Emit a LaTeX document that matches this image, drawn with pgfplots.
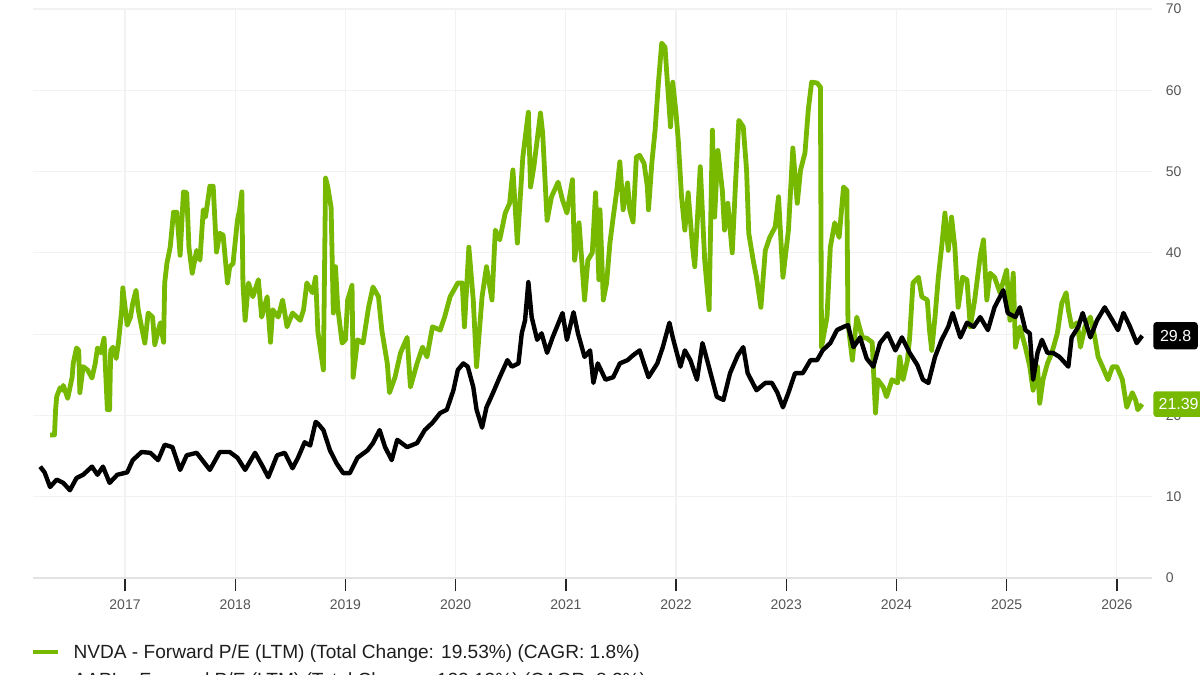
\documentclass[border=0pt]{standalone}
\usepackage{fontspec}
\setmainfont{Liberation Sans}
\usepackage{pgfplots}
\pgfplotsset{compat=1.18}
\definecolor{nv}{HTML}{76B900}
\definecolor{tk}{HTML}{555555}
\definecolor{gridc}{HTML}{F2F2F2}
\definecolor{axc}{HTML}{E2E2E2}
\definecolor{legc}{HTML}{1E1E1E}
\begin{document}
\begin{tikzpicture}
\useasboundingbox (0,0) rectangle (600pt,337.5pt);
\clip (0,0) rectangle (600pt,337.5pt);
\begin{axis}[
  at={(16.5pt,48.5pt)}, anchor=south west,
  scale only axis, width=559.5pt, height=284.5pt,
  xmin=2016.165, xmax=2026.319, ymin=0, ymax=70,
  clip=false,
  axis line style={draw=none},
  xtick={2017,2018,2019,2020,2021,2022,2023,2024,2025,2026},
  xticklabels={2017,2018,2019,2020,2021,2022,2023,2024,2025,2026},
  ytick={10,20,30,40,50,60,70},
  extra y ticks={0},
  extra y tick style={major grid style={draw=axc, line width=1.3pt}},
  xtick pos=left,
  yticklabel pos=right,
  tick align=outside,
  major tick length=6.5pt,
  xtick style={draw=black!85, line width=0.7pt},
  ytick style={draw=none},
  grid=major,
  major grid style={draw=gridc, line width=0.6pt},
  ticklabel style={font=\fontsize{7}{8}\selectfont, text=tk},
  /pgf/number format/assume math mode=true,
  yticklabel style={anchor=west, xshift=-3.1pt},
  xticklabel style={yshift=-0.6pt},
  legend style={at={(-0.0018,-0.1160)}, anchor=north west, draw=none, fill=none,
    inner sep=0pt, outer sep=0pt, font=\fontsize{9.55}{11}\selectfont, text=legc,
    column sep=6.8pt, row sep=5.3pt,
    nodes={inner sep=0pt, text height=7pt, text depth=2pt, anchor=base west}},
  legend cell align=left,
  legend image code/.code={\draw[#1, line width=2pt] (0pt,2.8pt) -- (12.5pt,2.8pt);},
]
\addplot[nv, line width=2.4pt, line join=round] coordinates {
(2016.32,17.6)(2016.36,17.6)(2016.37,20.7)(2016.38,22.3)(2016.41,23.4)(2016.43,23.1)(2016.44,23.7)(2016.48,22.1)(2016.52,24.7)(2016.53,26.4)(2016.56,28.3)(2016.58,28.0)(2016.59,22.8)(2016.62,26.0)(2016.66,25.6)(2016.70,24.6)(2016.73,26.4)(2016.75,28.3)(2016.78,27.7)(2016.81,29.5)(2016.84,20.7)(2016.86,20.7)(2016.87,28.0)(2016.89,28.4)(2016.92,27.0)(2016.94,28.9)(2016.97,33.0)(2016.98,35.7)(2017.02,31.1)(2017.05,32.1)(2017.07,33.8)(2017.10,35.4)(2017.12,33.0)(2017.15,30.9)(2017.18,28.9)(2017.21,32.6)(2017.25,32.1)(2017.27,28.7)(2017.32,31.4)(2017.35,29.0)(2017.36,36.3)(2017.38,38.7)(2017.41,40.7)(2017.44,45.0)(2017.47,45.0)(2017.50,39.7)(2017.53,47.5)(2017.56,47.4)(2017.58,40.7)(2017.61,37.5)(2017.65,40.3)(2017.68,39.1)(2017.71,45.3)(2017.73,44.4)(2017.77,48.2)(2017.80,48.2)(2017.83,40.1)(2017.86,42.4)(2017.89,42.2)(2017.93,36.3)(2017.95,38.3)(2017.98,38.7)(2018.02,44.0)(2018.04,45.3)(2018.06,47.5)(2018.07,36.3)(2018.09,31.7)(2018.12,36.3)(2018.16,34.6)(2018.21,36.7)(2018.24,32.1)(2018.29,34.6)(2018.32,29.0)(2018.34,33.0)(2018.39,32.1)(2018.43,34.2)(2018.47,30.9)(2018.52,32.6)(2018.59,31.7)(2018.62,33.0)(2018.65,36.3)(2018.70,35.1)(2018.73,37.0)(2018.75,30.3)(2018.80,25.6)(2018.82,49.2)(2018.84,48.1)(2018.87,45.6)(2018.89,32.6)(2018.91,38.3)(2018.93,33.3)(2018.97,28.9)(2019.00,29.3)(2019.02,34.2)(2019.06,36.0)(2019.07,24.7)(2019.11,29.3)(2019.16,28.9)(2019.21,33.3)(2019.25,35.8)(2019.30,34.6)(2019.33,30.5)(2019.38,26.4)(2019.40,22.8)(2019.45,24.7)(2019.50,27.7)(2019.56,29.6)(2019.59,23.5)(2019.65,26.4)(2019.70,28.4)(2019.74,27.2)(2019.79,30.9)(2019.86,30.5)(2019.90,32.1)(2019.95,34.6)(2020.02,36.3)(2020.06,36.3)(2020.08,30.9)(2020.12,40.7)(2020.16,34.2)(2020.19,26.0)(2020.24,34.6)(2020.28,38.3)(2020.33,34.2)(2020.36,42.8)(2020.40,41.6)(2020.45,44.9)(2020.49,46.1)(2020.52,50.2)(2020.56,41.2)(2020.61,51.8)(2020.66,57.3)(2020.68,48.1)(2020.71,50.6)(2020.77,57.2)(2020.79,54.7)(2020.83,44.0)(2020.87,46.9)(2020.93,48.7)(2020.97,46.5)(2021.01,44.9)(2021.06,49.0)(2021.08,39.1)(2021.12,43.7)(2021.17,34.2)(2021.20,39.1)(2021.24,40.0)(2021.27,47.4)(2021.30,36.7)(2021.31,45.3)(2021.34,34.2)(2021.37,36.3)(2021.40,41.2)(2021.43,44.4)(2021.46,47.4)(2021.49,51.2)(2021.52,45.3)(2021.56,48.6)(2021.58,45.3)(2021.61,43.8)(2021.64,51.8)(2021.67,52.0)(2021.71,51.0)(2021.74,48.1)(2021.75,45.3)(2021.78,51.0)(2021.81,55.1)(2021.84,60.9)(2021.87,65.8)(2021.90,65.3)(2021.92,61.3)(2021.95,55.5)(2021.97,61.0)(2022.00,57.2)(2022.02,53.9)(2022.05,46.9)(2022.08,42.8)(2022.11,47.4)(2022.15,40.7)(2022.17,38.3)(2022.22,50.6)(2022.26,39.1)(2022.30,33.0)(2022.33,55.1)(2022.35,44.4)(2022.38,52.6)(2022.42,47.7)(2022.44,42.8)(2022.47,46.1)(2022.51,40.0)(2022.54,48.6)(2022.57,56.3)(2022.61,55.5)(2022.64,50.2)(2022.66,42.4)(2022.70,39.1)(2022.73,37.0)(2022.77,33.3)(2022.81,40.3)(2022.85,41.9)(2022.90,43.2)(2022.93,46.9)(2022.97,37.0)(2023.02,42.8)(2023.06,52.9)(2023.10,46.1)(2023.13,50.2)(2023.17,52.3)(2023.20,57.6)(2023.23,61.0)(2023.28,60.9)(2023.31,60.4)(2023.32,28.4)(2023.37,32.1)(2023.40,40.7)(2023.44,43.7)(2023.48,41.9)(2023.52,48.1)(2023.55,47.7)(2023.56,31.4)(2023.60,26.8)(2023.64,32.1)(2023.69,29.6)(2023.73,29.5)(2023.78,29.0)(2023.81,20.3)(2023.83,24.4)(2023.88,23.5)(2023.91,22.3)(2023.96,24.4)(2024.01,24.0)(2024.03,27.2)(2024.06,24.4)(2024.10,26.8)(2024.12,29.6)(2024.15,36.3)(2024.20,37.0)(2024.23,34.6)(2024.28,34.2)(2024.30,30.5)(2024.32,28.0)(2024.35,32.1)(2024.38,37.0)(2024.41,40.7)(2024.44,44.9)(2024.47,40.3)(2024.50,44.4)(2024.53,40.7)(2024.56,33.3)(2024.60,37.0)(2024.64,36.7)(2024.67,30.9)(2024.71,34.2)(2024.76,39.6)(2024.79,41.6)(2024.82,34.2)(2024.85,37.5)(2024.89,37.0)(2024.94,35.1)(2025.00,37.9)(2025.03,31.7)(2025.06,37.5)(2025.08,28.4)(2025.12,30.9)(2025.17,28.4)(2025.21,26.0)(2025.24,23.1)(2025.28,26.0)(2025.30,21.5)(2025.33,24.4)(2025.37,26.4)(2025.41,27.7)(2025.46,30.1)(2025.50,33.8)(2025.54,35.1)(2025.56,33.0)(2025.59,30.9)(2025.64,31.4)(2025.67,28.4)(2025.71,30.9)(2025.76,32.1)(2025.80,29.6)(2025.83,27.2)(2025.87,26.0)(2025.92,24.4)(2025.96,26.0)(2026.00,26.0)(2026.05,24.4)(2026.09,21.0)(2026.14,22.8)(2026.17,21.9)(2026.19,20.7)(2026.23,21.39)
};
\addlegendentry{NVDA - Forward P/E (LTM) (Total Change: 19.53\%) (CAGR: 1.8\%)}
\addplot[black, line width=2.2pt, line join=round] coordinates {
(2016.23,13.7)(2016.27,13.0)(2016.32,11.2)(2016.38,12.1)(2016.44,11.7)(2016.50,10.8)(2016.56,12.3)(2016.62,12.7)(2016.70,13.7)(2016.75,12.7)(2016.80,13.7)(2016.86,11.7)(2016.93,12.7)(2017.02,13.0)(2017.07,14.5)(2017.15,15.5)(2017.23,15.4)(2017.30,14.5)(2017.36,16.4)(2017.43,16.1)(2017.50,13.3)(2017.56,15.1)(2017.65,15.4)(2017.77,13.3)(2017.86,15.5)(2017.95,15.5)(2018.02,14.8)(2018.09,13.3)(2018.18,15.4)(2018.25,13.7)(2018.30,12.4)(2018.38,15.1)(2018.45,15.4)(2018.52,13.5)(2018.57,14.8)(2018.63,16.7)(2018.68,16.3)(2018.73,19.2)(2018.75,19.0)(2018.80,18.2)(2018.86,15.7)(2018.92,14.1)(2018.98,12.9)(2019.04,12.9)(2019.11,14.8)(2019.20,15.7)(2019.25,16.6)(2019.31,18.2)(2019.36,16.1)(2019.42,14.5)(2019.47,17.0)(2019.56,16.1)(2019.65,16.6)(2019.72,18.2)(2019.79,19.1)(2019.86,20.3)(2019.92,20.7)(2019.98,23.1)(2020.02,25.6)(2020.07,26.4)(2020.11,26.0)(2020.16,23.5)(2020.19,20.7)(2020.24,18.5)(2020.28,21.0)(2020.34,22.8)(2020.40,24.7)(2020.47,26.8)(2020.51,26.0)(2020.57,26.4)(2020.60,30.1)(2020.63,31.7)(2020.66,36.4)(2020.69,32.1)(2020.74,29.3)(2020.78,30.1)(2020.83,27.7)(2020.88,29.6)(2020.97,32.6)(2021.01,29.3)(2021.07,32.7)(2021.11,30.1)(2021.17,27.2)(2021.22,28.0)(2021.25,24.0)(2021.29,26.4)(2021.36,24.4)(2021.43,24.7)(2021.49,26.4)(2021.56,26.8)(2021.61,27.4)(2021.67,28.0)(2021.75,24.7)(2021.83,26.4)(2021.88,28.4)(2021.94,31.4)(2021.97,29.6)(2022.04,26.0)(2022.08,28.0)(2022.13,26.8)(2022.19,24.4)(2022.24,28.9)(2022.29,26.4)(2022.37,22.3)(2022.43,21.9)(2022.49,25.2)(2022.56,27.4)(2022.61,28.4)(2022.65,25.2)(2022.73,23.1)(2022.81,24.0)(2022.87,24.0)(2022.92,22.8)(2022.97,21.0)(2023.02,22.8)(2023.08,25.2)(2023.15,25.2)(2023.22,26.8)(2023.28,26.8)(2023.33,28.0)(2023.40,28.9)(2023.46,30.5)(2023.52,30.9)(2023.56,31.1)(2023.61,28.4)(2023.67,29.6)(2023.73,27.0)(2023.79,26.0)(2023.85,28.9)(2023.92,30.1)(2023.99,28.0)(2024.05,29.6)(2024.12,27.7)(2024.19,26.2)(2024.24,24.4)(2024.29,24.0)(2024.35,27.2)(2024.41,29.3)(2024.47,30.9)(2024.51,32.6)(2024.58,29.6)(2024.64,31.4)(2024.70,30.9)(2024.76,32.1)(2024.83,30.5)(2024.89,33.3)(2024.97,35.4)(2025.01,32.6)(2025.08,32.1)(2025.12,33.3)(2025.17,30.5)(2025.21,30.1)(2025.24,24.4)(2025.28,27.7)(2025.32,29.3)(2025.37,27.7)(2025.42,27.7)(2025.48,27.2)(2025.56,26.0)(2025.59,29.6)(2025.65,30.9)(2025.69,32.6)(2025.76,29.6)(2025.82,31.7)(2025.89,33.3)(2025.96,31.7)(2026.01,30.5)(2026.06,32.6)(2026.12,30.9)(2026.18,28.9)(2026.23,29.8)
};
\addlegendentry{AAPL - Forward P/E (LTM) (Total Change: 122.13\%) (CAGR: 8.2\%)}
\coordinate (lb) at (axis cs:2026.319,29.8);
\coordinate (lg) at (axis cs:2026.319,21.39);
\end{axis}
\node[anchor=west, xshift=0.5pt, fill=black, text=white, rounded corners=1.5pt,
  inner xsep=3.3pt, inner ysep=4pt, font=\fontsize{8}{9}\selectfont] at (lb) {29.8};
\node[anchor=west, xshift=0.5pt, fill=nv, text=white, rounded corners=1.5pt,
  inner xsep=2.6pt, inner ysep=3.6pt, font=\fontsize{8}{9}\selectfont] at (lg) {21.39};
\end{tikzpicture}
\end{document}
